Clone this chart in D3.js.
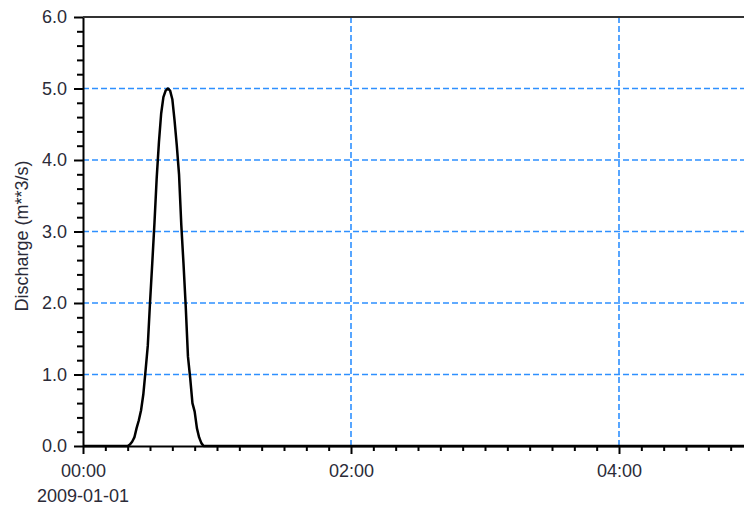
<!DOCTYPE html>
<html>
<head>
<meta charset="utf-8">
<script src="https://cdn.jsdelivr.net/npm/d3@7"></script>
<style>
  body { margin: 0; background: #fff; }
  text { font-family: "Liberation Sans", Arial, sans-serif; font-size: 18px; fill: #2b2b38; }
</style>
</head>
<body>
<div id="chart"></div>
<script>
// data: minutes after 2009-01-01 00:00, discharge in m3/s
const minutes = [0, 20, 21, 22, 23, 24, 25, 26, 27, 28, 29, 30, 31, 32, 33, 34, 35, 36, 37, 38,
  39, 40, 41, 42, 43, 44, 45, 46, 47, 48, 49, 50, 51, 52, 53, 54, 300];
const discharge = [0, 0, 0.02, 0.06, 0.12, 0.25, 0.36, 0.50, 0.72, 1.05, 1.40, 2.00, 2.55, 3.12, 3.75, 4.25, 4.65, 4.88, 4.97, 5.00,
  4.97, 4.85, 4.55, 4.20, 3.80, 3.10, 2.55, 1.95, 1.25, 0.95, 0.60, 0.48, 0.25, 0.12, 0.04, 0, 0];
const yMajor = [0, 1, 2, 3, 4, 5, 6];
const yGrid = [1, 2, 3, 4, 5];
const xMajorHours = [0, 2, 4];
const startLabel = "2009-01-01";
const yTitle = "Discharge (m**3/s)";

const width = 744;
const height = 507;
const margin = { top: 17, bottom: 61, left: 83 };

const t0 = new Date(Date.UTC(2009, 0, 1));
const toDate = m => new Date(t0.getTime() + m * 60000);

const svg = d3.select('#chart')
  .append('svg')
  .attr('width', width)
  .attr('height', height);

// 1 hour = 134 px
const x = d3.scaleUtc()
  .domain([t0, toDate(300)])
  .range([margin.left, margin.left + 5 * 134]);

const y = d3.scaleLinear()
  .domain([0, 6])
  .range([height - margin.bottom, margin.top]);

const bottom = y(0);

// grid
const grid = svg.append('g');

grid.selectAll('line.h')
  .data(yGrid)
  .join('line')
  .attr('class', 'h')
  .attr('x1', margin.left)
  .attr('x2', width)
  .attr('y1', d => y(d))
  .attr('y2', d => y(d));

grid.selectAll('line.v')
  .data(xMajorHours.filter(h => h > 0))
  .join('line')
  .attr('class', 'v')
  .attr('x1', d => x(toDate(d * 60)))
  .attr('x2', d => x(toDate(d * 60)))
  .attr('y1', margin.top)
  .attr('y2', bottom);

grid.selectAll('line')
  .attr('stroke', '#2e90ff')
  .attr('stroke-width', 1.6)
  .attr('stroke-dasharray', '6,3');

// minor y ticks
const yMinor = d3.range(0, 30).map(i => i * 0.2).filter(v => Math.abs(v - Math.round(v)) > 0.01);
svg.append('g')
  .attr('transform', `translate(${margin.left},0)`)
  .call(d3.axisLeft(y).tickValues(yMinor).tickSize(6).tickFormat(''))
  .call(g => g.select('.domain').remove())
  .call(g => g.selectAll('line').attr('stroke', '#000').attr('stroke-width', 2));

// major y ticks
svg.append('g')
  .attr('transform', `translate(${margin.left},0)`)
  .call(d3.axisLeft(y).tickValues(yMajor).tickSize(9).tickSizeOuter(0).tickPadding(7).tickFormat(d3.format('.1f')))
  .call(g => g.select('.domain').attr('stroke', '#000').attr('stroke-width', 2))
  .call(g => g.selectAll('line').attr('stroke', '#000').attr('stroke-width', 2))
  .call(g => g.selectAll('text').attr('font-size', 18).attr('fill', '#2b2b38'));

// minor x ticks (10 min)
const xMinor = d3.range(0, 31).map(i => toDate(i * 10)).filter(d => d.getUTCMinutes() !== 0 || d.getUTCHours() % 2 !== 0);
svg.append('g')
  .attr('transform', `translate(0,${bottom})`)
  .call(d3.axisBottom(x).tickValues(xMinor).tickSize(5).tickFormat(''))
  .call(g => g.select('.domain').remove())
  .call(g => g.selectAll('line').attr('stroke', '#000').attr('stroke-width', 2));

// major x ticks
svg.append('g')
  .attr('transform', `translate(0,${bottom})`)
  .call(d3.axisBottom(x).tickValues(xMajorHours.map(h => toDate(h * 60))).tickSize(8).tickSizeOuter(0).tickPadding(10)
    .tickFormat(d3.utcFormat('%H:%M')))
  .call(g => g.select('.domain').attr('stroke', '#000').attr('stroke-width', 2))
  .call(g => g.selectAll('line').attr('stroke', '#000').attr('stroke-width', 2))
  .call(g => g.selectAll('text').attr('font-size', 18).attr('fill', '#2b2b38'));

svg.append('text')
  .attr('x', x(t0))
  .attr('y', 502)
  .attr('text-anchor', 'middle')
  .text(startLabel);

// top border
svg.append('line')
  .attr('x1', margin.left)
  .attr('x2', width)
  .attr('y1', margin.top)
  .attr('y2', margin.top)
  .attr('stroke', '#333')
  .attr('stroke-width', 2);

// y title
svg.append('text')
  .attr('transform', 'rotate(-90)')
  .attr('x', -236)
  .attr('y', 28)
  .attr('text-anchor', 'middle')
  .text(yTitle);

// discharge line
const line = d3.line()
  .x((d, i) => x(toDate(minutes[i])))
  .y(d => y(d));

svg.append('path')
  .datum(discharge)
  .attr('fill', 'none')
  .attr('stroke', '#000')
  .attr('stroke-width', 2.5)
  .attr('stroke-linejoin', 'round')
  .attr('d', line);
</script>
</body>
</html>
